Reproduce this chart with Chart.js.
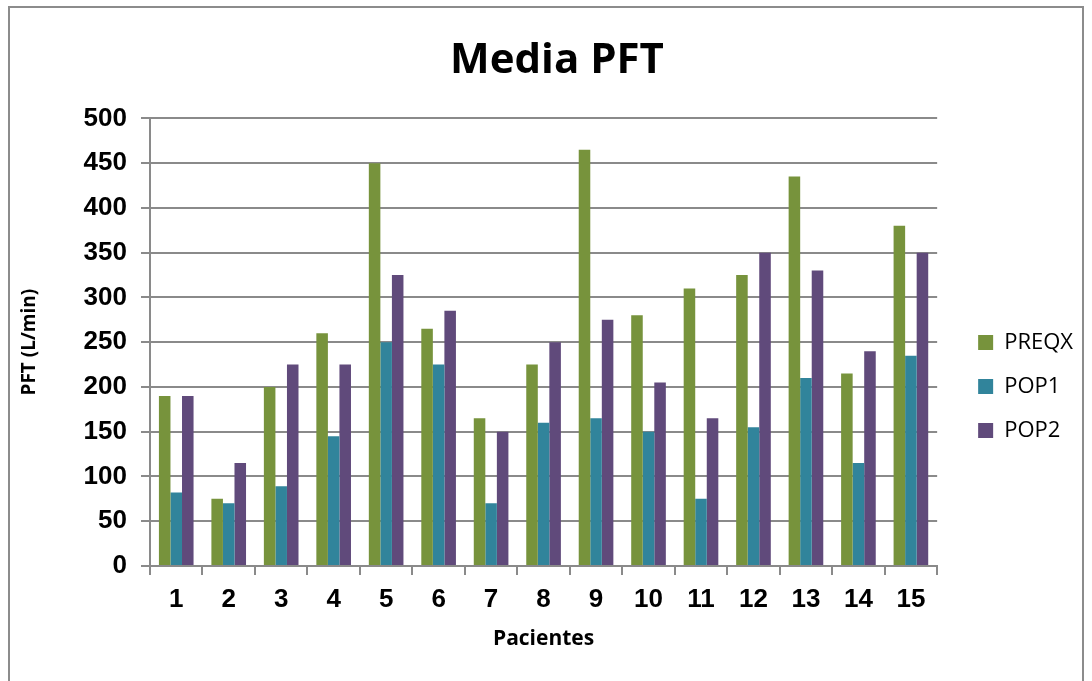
<!DOCTYPE html>
<html>
<head>
<meta charset="utf-8">
<script src="https://cdn.jsdelivr.net/npm/chart.js@4.4.1/dist/chart.umd.min.js"></script>
<style>
     html, body { margin: 0; padding: 0; background: #fff; overflow: hidden; }
     #frame { position: absolute; left: 8px; top: 6px; width: 1076px; height: 720px; border: 2px solid #8c8c8c; box-sizing: border-box; }
     #wrap { position: absolute; left: 0; top: 0; width: 1092px; height: 681px; }
</style>
</head>
<body>
<div id="frame"></div>
<div id="wrap"><canvas id="pftChart"></canvas></div>
<script>
// Datos
const pacientes = ["1", "2", "3", "4", "5", "6", "7", "8", "9", "10", "11", "12", "13", "14", "15"];
const preqx = [190, 75, 200, 260, 450, 265, 165, 225, 465, 280, 310, 325, 435, 215, 380];
const pop1 = [82, 70, 89, 145, 250, 225, 70, 160, 165, 150, 75, 155, 210, 115, 235];
const pop2 = [190, 115, 225, 225, 325, 285, 150, 250, 275, 205, 165, 350, 330, 240, 350];
const yTicks = [0, 50, 100, 150, 200, 250, 300, 350, 400, 450, 500];

const gridGray = "#8a8a8a";

// move the legend and title a bit, like the Excel one
const boxShift = {
     id: 'boxShift',
     afterLayout: function (chart) {
          var lg = chart.legend;
          if (lg) {
               lg.top += 54; lg.bottom += 54;
               lg.left += 19; lg.right += 19;
          }
          var tt = chart.titleBlock;
          if (tt) {
               tt.left += 16; tt.right += 16;
          }
     }
};

function createPftChart() {
     var ctx = document.getElementById('pftChart').getContext('2d');

     window.pftChart = new Chart(ctx, {
          type: 'bar',
          data: {
               labels: pacientes,
               datasets: [
                    { label: "PREQX", data: preqx, backgroundColor: "#77933C" },
                    { label: "POP1", data: pop1, backgroundColor: "#31849B" },
                    { label: "POP2", data: pop2, backgroundColor: "#604A7B" }
               ]
          },
          options: {
               responsive: false,
               animation: false,
               devicePixelRatio: 1,
               datasets: {
                    bar: { barPercentage: 1.0, categoryPercentage: 0.66 }
               },
               layout: {
                    padding: { top: 10, left: 18, right: 28, bottom: 26 }
               },
               plugins: {
                    title: {
                         display: true,
                         text: "Media PFT",
                         color: "#000",
                         font: { family: "Open Sans", size: 42, weight: "bold" },
                         padding: { top: 26, bottom: 32 }
                    },
                    legend: {
                         position: 'right',
                         labels: {
                              color: "#000",
                              font: { family: "Open Sans", size: 22 },
                              boxWidth: 15,
                              boxHeight: 15,
                              padding: 22
                         }
                    },
                    tooltip: { enabled: false }
               },
               scales: {
                    x: {
                         grid: {
                              display: true,
                              offset: true,
                              drawOnChartArea: false,
                              color: gridGray,
                              lineWidth: 2,
                              tickLength: 9
                         },
                         border: { color: gridGray, width: 2 },
                         ticks: {
                              color: "#000",
                              font: { family: "Liberation Sans", size: 26, weight: "bold" },
                              padding: 9
                         },
                         title: {
                              display: true,
                              text: "Pacientes",
                              color: "#000",
                              font: { family: "Open Sans", size: 21, weight: "bold" },
                              padding: { top: 4, bottom: 3 }
                         },
                         afterFit: function (scale) { scale.height = 681 - 566 - 26; }
                    },
                    y: {
                         min: 0,
                         max: 500,
                         afterBuildTicks: function (scale) {
                              scale.ticks = yTicks.map(v => ({ value: v }));
                         },
                         grid: {
                              color: gridGray,
                              lineWidth: 2,
                              tickLength: 9
                         },
                         border: { color: gridGray, width: 2 },
                         ticks: {
                              color: "#000",
                              font: { family: "Liberation Sans", size: 26, weight: "bold" },
                              padding: 14
                         },
                         title: {
                              display: true,
                              text: "PFT (L/min)",
                              color: "#000",
                              font: { family: "Open Sans", size: 19, weight: "bold" },
                              padding: { top: 0, bottom: 4 }
                         },
                         afterFit: function (scale) { scale.width = 150 - 18; }
                    }
               }
          },
          plugins: [boxShift]
     });
}

document.addEventListener('DOMContentLoaded', function () {
     var c = document.getElementById('pftChart');
     c.width = 1092;
     c.height = 681;
     createPftChart();
});
</script>
</body>
</html>
